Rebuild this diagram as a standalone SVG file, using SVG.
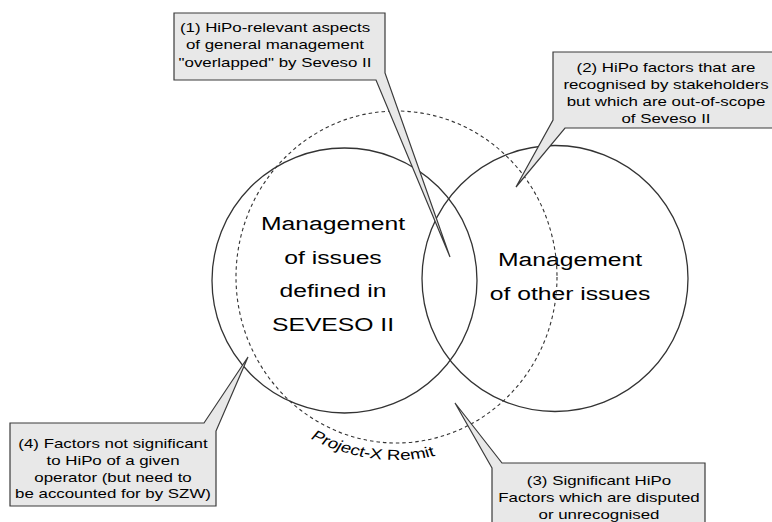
<svg xmlns="http://www.w3.org/2000/svg" width="772" height="522" viewBox="0 0 772 522">
<defs>
<style>
.set{fill:none;stroke:#333;stroke-width:1.3}
.remit{fill:none;stroke:#333;stroke-width:1.1;stroke-dasharray:3.5 3}
.callout{fill:#e8e8e8;stroke:#3a3a3a;stroke-width:1.2;stroke-linejoin:miter}
.big{font-family:"Liberation Sans",Arial,sans-serif;font-size:19px;fill:#000;text-anchor:middle}
.small{font-family:"Liberation Sans",Arial,sans-serif;font-size:13.5px;fill:#000;text-anchor:middle}
.curved{font-family:"Liberation Sans",Arial,sans-serif;font-size:14.5px;fill:#000;text-anchor:middle}
</style>
<path id="remitArc" d="M 278.4 376.7 A 140.8 183 0 0 0 492.5 410.8"/>
</defs>
<rect width="772" height="522" fill="#fff"/>

<g id="set-seveso">
<circle class="set" cx="344.5" cy="280.5" r="132.5"/>
<g transform="translate(333,0) scale(1.3,1)">
<text class="big" x="0" y="230">Management</text>
<text class="big" x="0" y="264">of issues</text>
<text class="big" x="0" y="297.5">defined in</text>
<text class="big" x="0" y="331.5">SEVESO II</text>
</g>
</g>

<g id="set-other">
<circle class="set" cx="555" cy="278.5" r="133"/>
<g transform="translate(570,0) scale(1.3,1)">
<text class="big" x="0" y="266.5">Management</text>
<text class="big" x="0" y="300">of other issues</text>
</g>
</g>

<g id="set-remit">
<ellipse class="remit" cx="396.5" cy="277" rx="160.5" ry="166"/>
<g transform="translate(396.5,0) scale(1.3,1) translate(-396.5,0)">
<text class="curved"><textPath href="#remitArc" startOffset="50%">Project-X Remit</textPath></text>
</g>
</g>

<g id="callout-1">
<path class="callout" d="M174,13 H385 V73 L450,257 L376,80 H174 Z"/>
<g transform="translate(275,0) scale(1.25,1)">
<text class="small" x="0" y="32">(1) HiPo-relevant aspects</text>
<text class="small" x="0" y="49.5">of general management</text>
<text class="small" x="0" y="67.5">"overlapped" by Seveso II</text>
</g>
</g>

<g id="callout-2">
<path class="callout" d="M553,52 H780 V128 H565 L516,187 L553,120 Z"/>
<g transform="translate(666,0) scale(1.25,1)">
<text class="small" x="0" y="72">(2) HiPo factors that are</text>
<text class="small" x="0" y="89">recognised by stakeholders</text>
<text class="small" x="0" y="106">but which are out-of-scope</text>
<text class="small" x="0" y="123">of Seveso II</text>
</g>
</g>

<g id="callout-3">
<path class="callout" d="M492,468 L455,403 L502,463 H705 V535 H492 Z"/>
<g transform="translate(599,0) scale(1.25,1)">
<text class="small" x="0" y="485">(3) Significant HiPo</text>
<text class="small" x="0" y="502.3">Factors which are disputed</text>
<text class="small" x="0" y="519.3">or unrecognised</text>
</g>
</g>

<g id="callout-4">
<path class="callout" d="M10,423 H204 L248,357 L216,431 V506 H10 Z"/>
<g transform="translate(113,0) scale(1.25,1)">
<text class="small" x="0" y="448.3">(4) Factors not significant</text>
<text class="small" x="0" y="465">to HiPo of a given</text>
<text class="small" x="0" y="481.7">operator (but need to</text>
<text class="small" x="0" y="498.3">be accounted for by SZW)</text>
</g>
</g>
</svg>
